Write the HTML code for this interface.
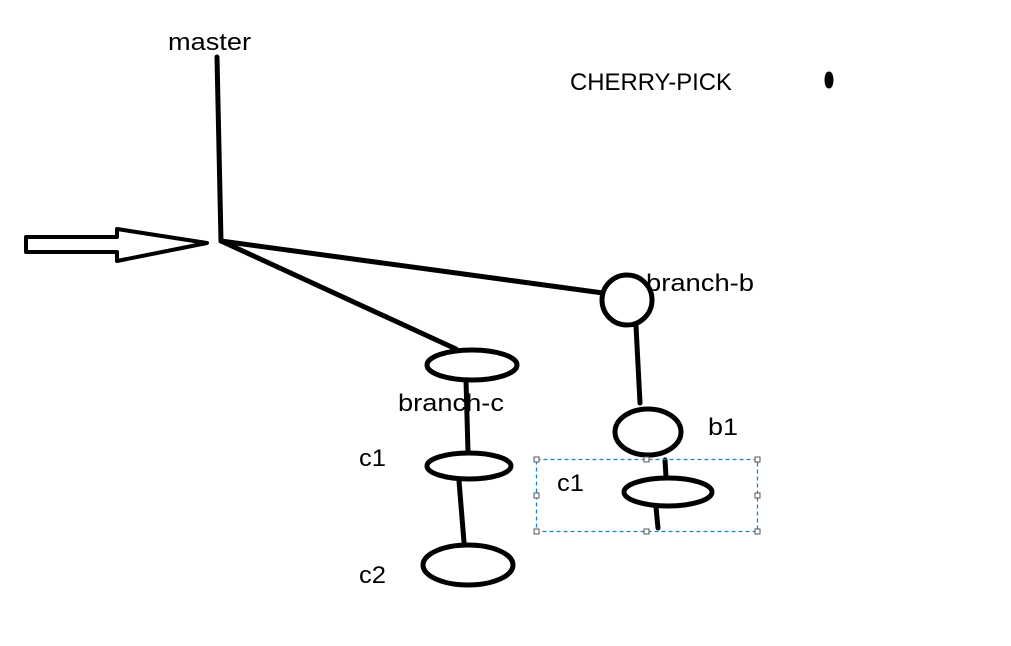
<!DOCTYPE html>
<html><head><meta charset="utf-8"><style>
html,body{margin:0;padding:0;background:#fff;}
svg{display:block}
text{font-family:"Liberation Sans",sans-serif;font-size:24px;fill:#000}
</style></head><body>
<svg width="1011" height="646" viewBox="0 0 1011 646" xmlns="http://www.w3.org/2000/svg">
<g stroke="#000" stroke-width="5" fill="none" stroke-linecap="round" stroke-linejoin="round">
<path d="M217 57 L221 241 L456 349"/>
<path d="M221 241 L603 293"/>
<path d="M26 237 L117 237 L117 229 L207 243 L117 261 L117 252 L26 252 Z" stroke-width="4"/>
<circle cx="627" cy="300" r="25"/>
<path d="M636 326 L640 403"/>
<ellipse cx="472" cy="365" rx="45" ry="15"/>
<path d="M466 380 L468 452"/>
<ellipse cx="469" cy="466" rx="42" ry="13"/>
<path d="M459 481 L464 542"/>
<ellipse cx="468" cy="565" rx="45" ry="20"/>
<ellipse cx="648" cy="432" rx="33" ry="23"/>
<path d="M665 460 L666 477"/>
<ellipse cx="668" cy="492" rx="44" ry="14"/>
<path d="M656 507 L658 528"/>
<ellipse cx="829" cy="80" rx="2" ry="6" fill="#000"/>
</g>
<rect x="536.5" y="459.5" width="221" height="72" fill="none" stroke="#1e7fd8" stroke-width="1.3" stroke-dasharray="4,3"/>
<g fill="#fff" stroke="#555" stroke-width="1">
<rect x="534" y="457" width="5" height="5"/><rect x="644" y="457" width="5" height="5"/><rect x="755" y="457" width="5" height="5"/>
<rect x="534" y="493" width="5" height="5"/><rect x="755" y="493" width="5" height="5"/>
<rect x="534" y="529" width="5" height="5"/><rect x="644" y="529" width="5" height="5"/><rect x="755" y="529" width="5" height="5"/>
</g>
<text x="168" y="50" textLength="83" lengthAdjust="spacingAndGlyphs">master</text>
<text x="570" y="90" textLength="162" lengthAdjust="spacingAndGlyphs">CHERRY-PICK</text>
<text x="646" y="291" textLength="108" lengthAdjust="spacingAndGlyphs">branch-b</text>
<text x="398" y="411" textLength="106" lengthAdjust="spacingAndGlyphs">branch-c</text>
<text x="359" y="466" textLength="27" lengthAdjust="spacingAndGlyphs">c1</text>
<text x="359" y="583" textLength="27" lengthAdjust="spacingAndGlyphs">c2</text>
<text x="708" y="435" textLength="30" lengthAdjust="spacingAndGlyphs">b1</text>
<text x="557" y="491" textLength="27" lengthAdjust="spacingAndGlyphs">c1</text>
</svg>
</body></html>
